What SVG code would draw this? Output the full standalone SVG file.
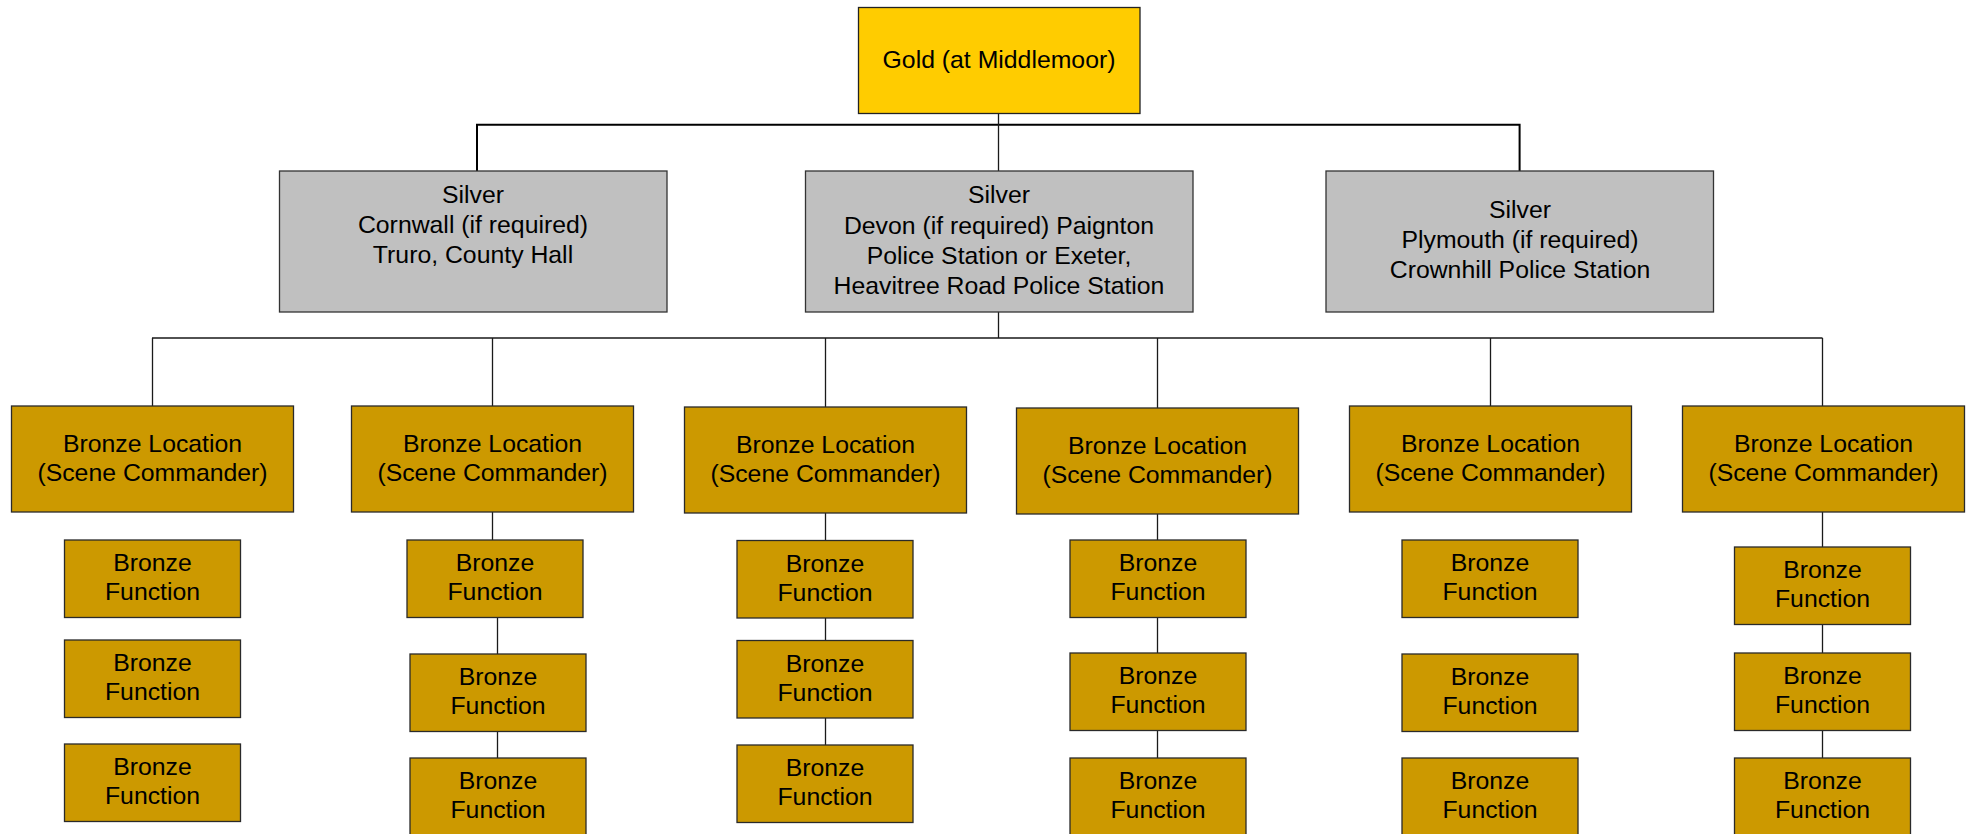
<svg xmlns="http://www.w3.org/2000/svg" width="1966" height="834" viewBox="0 0 1966 834">
<defs>
<style>
text{font-family:"Liberation Sans",Arial,sans-serif;font-size:24.8px;fill:#000;text-anchor:middle}
.gold{fill:#FFCC00;stroke:#222;stroke-width:1.3}
.silver{fill:#C0C0C0;stroke:#333;stroke-width:1.3}
.bronze{fill:#CC9900;stroke:#2a2a2a;stroke-width:1.3}
.thick{fill:none;stroke:#000;stroke-width:2}
.thin{fill:none;stroke:#1a1a1a;stroke-width:1.3}
</style>
</defs>
<rect width="1966" height="834" fill="#fff"/>
<g id="connectors">
<path class="thick" d="M477,171 V124.7 H1519.6 V171"/>
<path class="thin" d="M998.5,113.3 V171"/>
<path class="thin" d="M998.5,311.7 V338 M152,338 H1822.5"/>
<path class="thin" d="M152.5,338 V406 M492.5,338 V406 M825.5,338 V407 M1157.5,338 V408 M1490.5,338 V406 M1822.5,338 V406"/>
<path class="thin" d="M492.5,512 V540 M497.5,617.5 V654 M497.5,731.5 V758"/>
<path class="thin" d="M825.5,513 V540.5 M825.5,618 V640.5 M825.5,718 V745"/>
<path class="thin" d="M1157.5,514 V540 M1157.5,617.5 V653 M1157.5,730.5 V758"/>
<path class="thin" d="M1822.5,512 V547 M1822.5,624.5 V653 M1822.5,730.5 V758"/>
</g>
<g id="gold">
<rect class="gold" x="858.5" y="7.5" width="281.5" height="106"/>
<text x="999" y="68">Gold (at Middlemoor)</text>
</g>
<g id="silver-cornwall">
<rect class="silver" x="279.5" y="171" width="387.5" height="141"/>
<text x="473" y="203">Silver</text>
<text x="473" y="233">Cornwall (if required)</text>
<text x="473" y="263">Truro, County Hall</text>
</g>
<g id="silver-devon">
<rect class="silver" x="805.5" y="171" width="387.5" height="141"/>
<text x="999" y="203">Silver</text>
<text x="999" y="233.5">Devon (if required) Paignton</text>
<text x="999" y="263.5">Police Station or Exeter,</text>
<text x="999" y="293.5">Heavitree Road Police Station</text>
</g>
<g id="silver-plymouth">
<rect class="silver" x="1326" y="171" width="387.5" height="141"/>
<text x="1520" y="218">Silver</text>
<text x="1520" y="248">Plymouth (if required)</text>
<text x="1520" y="278">Crownhill Police Station</text>
</g>
<g id="loc1"><rect class="bronze" x="11.5" y="406" width="282" height="106"/><text x="152.5" y="451.5">Bronze Location</text><text x="152.5" y="481">(Scene Commander)</text></g>
<g id="loc2"><rect class="bronze" x="351.5" y="406" width="282" height="106"/><text x="492.5" y="451.5">Bronze Location</text><text x="492.5" y="481">(Scene Commander)</text></g>
<g id="loc3"><rect class="bronze" x="684.5" y="407" width="282" height="106"/><text x="825.5" y="452.5">Bronze Location</text><text x="825.5" y="482">(Scene Commander)</text></g>
<g id="loc4"><rect class="bronze" x="1016.5" y="408" width="282" height="106"/><text x="1157.5" y="453.5">Bronze Location</text><text x="1157.5" y="483">(Scene Commander)</text></g>
<g id="loc5"><rect class="bronze" x="1349.5" y="406" width="282" height="106"/><text x="1490.5" y="451.5">Bronze Location</text><text x="1490.5" y="481">(Scene Commander)</text></g>
<g id="loc6"><rect class="bronze" x="1682.5" y="406" width="282" height="106"/><text x="1823.5" y="451.5">Bronze Location</text><text x="1823.5" y="481">(Scene Commander)</text></g>
<g id="f1a"><rect class="bronze" x="64.5" y="540" width="176" height="77.5"/><text x="152.5" y="571">Bronze</text><text x="152.5" y="600">Function</text></g>
<g id="f1b"><rect class="bronze" x="64.5" y="640" width="176" height="77.5"/><text x="152.5" y="671">Bronze</text><text x="152.5" y="700">Function</text></g>
<g id="f1c"><rect class="bronze" x="64.5" y="744" width="176" height="77.5"/><text x="152.5" y="775">Bronze</text><text x="152.5" y="804">Function</text></g>
<g id="f2a"><rect class="bronze" x="407" y="540" width="176" height="77.5"/><text x="495" y="571">Bronze</text><text x="495" y="600">Function</text></g>
<g id="f2b"><rect class="bronze" x="410" y="654" width="176" height="77.5"/><text x="498" y="685">Bronze</text><text x="498" y="714">Function</text></g>
<g id="f2c"><rect class="bronze" x="410" y="758" width="176" height="80"/><text x="498" y="789">Bronze</text><text x="498" y="818">Function</text></g>
<g id="f3a"><rect class="bronze" x="737" y="540.5" width="176" height="77.5"/><text x="825" y="571.5">Bronze</text><text x="825" y="600.5">Function</text></g>
<g id="f3b"><rect class="bronze" x="737" y="640.5" width="176" height="77.5"/><text x="825" y="671.5">Bronze</text><text x="825" y="700.5">Function</text></g>
<g id="f3c"><rect class="bronze" x="737" y="745" width="176" height="77.5"/><text x="825" y="776">Bronze</text><text x="825" y="805">Function</text></g>
<g id="f4a"><rect class="bronze" x="1070" y="540" width="176" height="77.5"/><text x="1158" y="571">Bronze</text><text x="1158" y="600">Function</text></g>
<g id="f4b"><rect class="bronze" x="1070" y="653" width="176" height="77.5"/><text x="1158" y="684">Bronze</text><text x="1158" y="713">Function</text></g>
<g id="f4c"><rect class="bronze" x="1070" y="758" width="176" height="80"/><text x="1158" y="789">Bronze</text><text x="1158" y="818">Function</text></g>
<g id="f5a"><rect class="bronze" x="1402" y="540" width="176" height="77.5"/><text x="1490" y="571">Bronze</text><text x="1490" y="600">Function</text></g>
<g id="f5b"><rect class="bronze" x="1402" y="654" width="176" height="77.5"/><text x="1490" y="685">Bronze</text><text x="1490" y="714">Function</text></g>
<g id="f5c"><rect class="bronze" x="1402" y="758" width="176" height="80"/><text x="1490" y="789">Bronze</text><text x="1490" y="818">Function</text></g>
<g id="f6a"><rect class="bronze" x="1734.5" y="547" width="176" height="77.5"/><text x="1822.5" y="578">Bronze</text><text x="1822.5" y="607">Function</text></g>
<g id="f6b"><rect class="bronze" x="1734.5" y="653" width="176" height="77.5"/><text x="1822.5" y="684">Bronze</text><text x="1822.5" y="713">Function</text></g>
<g id="f6c"><rect class="bronze" x="1734.5" y="758" width="176" height="80"/><text x="1822.5" y="789">Bronze</text><text x="1822.5" y="818">Function</text></g>
</svg>
